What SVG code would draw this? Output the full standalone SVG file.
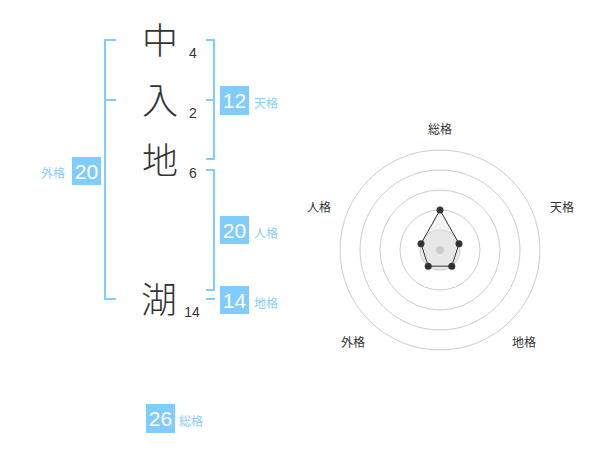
<svg xmlns="http://www.w3.org/2000/svg" width="600" height="470" viewBox="0 0 600 470">
<style>
.ch{font-family:"Noto Sans CJK JP","Noto Sans",sans-serif;font-size:36px;font-weight:300;fill:#333;text-anchor:middle}
.n{font-family:"Liberation Sans",Arial,sans-serif;font-size:14px;fill:#333;text-anchor:middle}
.bx{fill:#80ccff}
.bn{font-family:"Liberation Sans",Arial,sans-serif;font-size:21px;fill:#fff;text-anchor:middle}
.lb{font-family:"Noto Sans CJK JP",sans-serif;font-size:12px;fill:#88cdf6}
.br{fill:none;stroke:#80ccff;stroke-width:2}
.ring{fill:none;stroke:#ccc;stroke-width:1}
.rl{font-family:"Noto Sans CJK JP",sans-serif;font-size:12px;fill:#333;text-anchor:middle}
</style>
<rect width="600" height="470" fill="#fff"/>
<g id="chars">
<text class="ch" x="160" y="53.5">中</text>
<text class="ch" x="160" y="113.5">入</text>
<text class="ch" x="160" y="173.5">地</text>
<text class="ch" x="159" y="313">湖</text>
<text class="n" x="193" y="57.5">4</text>
<text class="n" x="193" y="118">2</text>
<text class="n" x="193" y="178">6</text>
<text class="n" x="192" y="317">14</text>
</g>
<g id="connectors">
<path class="br" d="M116,40 H105 V299 H116 M105,100 H116"/>
<path class="br" d="M206,40 H214 V159 H206 M206,100 H214"/>
<path class="br" d="M206,170 H214 V290 H206"/>
<path class="br" d="M206,299 H215"/>
</g>
<g id="gaikaku">
<rect class="bx" x="72" y="157" width="29" height="28"/>
<text class="bn" x="86.5" y="178.5">20</text>
<text class="lb" x="41" y="178">外格</text>
</g>
<g id="tenkaku">
<rect class="bx" x="220" y="86" width="29" height="29"/>
<text class="bn" x="234.5" y="108">12</text>
<text class="lb" x="254" y="108">天格</text>
</g>
<g id="jinkaku">
<rect class="bx" x="220" y="216" width="29" height="28"/>
<text class="bn" x="234.5" y="237.5">20</text>
<text class="lb" x="254" y="238">人格</text>
</g>
<g id="chikaku">
<rect class="bx" x="220" y="286" width="29" height="28"/>
<text class="bn" x="234.5" y="307.5">14</text>
<text class="lb" x="254" y="308">地格</text>
</g>
<g id="soukaku">
<rect class="bx" x="146" y="404" width="29" height="29"/>
<text class="bn" x="160.5" y="426">26</text>
<text class="lb" x="179" y="426">総格</text>
</g>
<g id="radar">
<circle class="ring" cx="440" cy="250" r="100"/>
<circle class="ring" cx="440" cy="250" r="80"/>
<circle class="ring" cx="440" cy="250" r="60"/>
<circle class="ring" cx="440" cy="250" r="40"/>
<circle cx="440" cy="250" r="20" fill="#ebebeb" stroke="#ccc" stroke-width="1"/>
<polygon points="440,210 459,243.8 451.8,266.2 428.2,266.2 421,243.8" fill="#e0e0e0" fill-opacity="0.4" stroke="#333" stroke-width="1"/>
<circle cx="440" cy="250" r="4" fill="#ccc"/>
<g fill="#333">
<circle cx="440" cy="210" r="3.5"/>
<circle cx="459" cy="243.8" r="3.5"/>
<circle cx="451.8" cy="266.2" r="3.5"/>
<circle cx="428.2" cy="266.2" r="3.5"/>
<circle cx="421" cy="243.8" r="3.5"/>
</g>
<text class="rl" x="440" y="134">総格</text>
<text class="rl" x="562" y="212">天格</text>
<text class="rl" x="319" y="212">人格</text>
<text class="rl" x="353" y="347">外格</text>
<text class="rl" x="524" y="347">地格</text>
</g>
</svg>
